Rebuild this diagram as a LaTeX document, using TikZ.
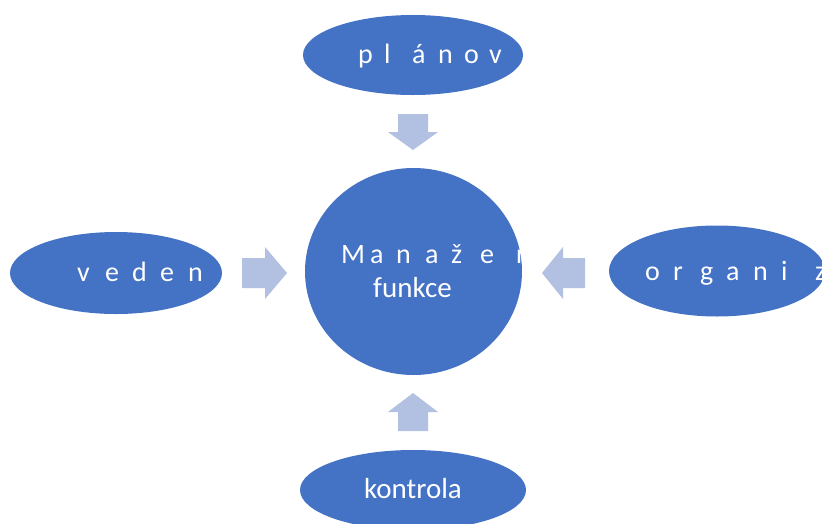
\documentclass[tikz,border=0pt]{standalone}
\usepackage{fontspec}
\setmainfont{Carlito}
\usetikzlibrary{shapes.geometric}
\definecolor{blu}{RGB}{68,114,196}
\definecolor{arr}{RGB}{178,192,226}
\begin{document}
\begin{tikzpicture}[x=1pt,y=-1pt,
  blob/.style={ellipse,fill=blu,inner sep=0pt,draw=none},
  lbl/.style={text=white,font=\fontsize{28}{32}\selectfont,inner sep=0pt,anchor=base west},
  word/.style={text=white,font=\fontsize{29}{33}\selectfont,inner sep=0pt,anchor=base},
  barrow/.style={fill=arr,draw=none}]
\clip (0,0) rectangle (822,523);
\fill[white] (0,0) rectangle (822,523);
% shapes
\node[blob,minimum width=220,minimum height=80] (plan) at (413,55) {};
\node[blob,minimum width=212,minimum height=82] (ved) at (116,273) {};
\node[blob,minimum width=216,minimum height=91] (org) at (717,271) {};
\node[blob,minimum width=226,minimum height=80] (kon) at (413,490) {};
\node[blob,minimum width=217,minimum height=207] (man) at (413.5,271.5) {};
% block arrows
\fill[barrow] (398,114) -- (428,114) -- (428,132) -- (438,132) -- (413,150) -- (388,132) -- (398,132) -- cycle;
\fill[barrow] (398,431) -- (428,431) -- (428,412) -- (438,412) -- (413,393) -- (388,412) -- (398,412) -- cycle;
\fill[barrow] (242,258) -- (265,258) -- (265,247) -- (287,273) -- (265,299) -- (265,288) -- (242,288) -- cycle;
\fill[barrow] (585,258) -- (563,258) -- (563,247) -- (542,273) -- (563,299) -- (563,288) -- (585,288) -- cycle;
% spaced labels
\foreach \ch/\x in {p/358,l/384,á/412,n/438,o/464,v/489}
  \node[lbl] (pl\x) at (\x,63) {\ch};
\foreach \ch/\x in {v/77,e/105,d/132,e/160,n/188}
  \node[lbl] (ve\x) at (\x,281) {\ch};
\foreach \ch/\x in {o/645,r/673,g/700,a/726,n/753,i/781,z/815}
  \node[lbl] (or\x) at (\x,280) {\ch};
\foreach \ch/\x in {M/341,a/370,n/396,a/425,ž/451,e/480}
  \node[lbl] (ma\x) at (\x,263) {\ch};
\begin{scope}
  \clip (505,240) rectangle (520,270);
  \node[lbl] (ma517) at (516,263) {r};
\end{scope}
\node[word] (fun) at (412.5,297) {funkce};
\node[word] (kont) at (413,498) {kontrola};
\end{tikzpicture}
\end{document}
